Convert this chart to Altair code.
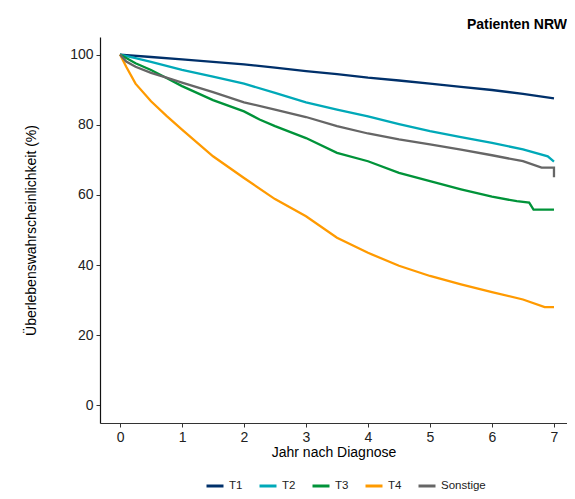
import altair as alt
import pandas as pd

series = ["T1", "T2", "T3", "T4", "Sonstige"]
colors = ["#00306a", "#00a9b8", "#009339", "#ff9a00", "#666666"]

t1_x = [0, 0.5, 1, 1.5, 2, 2.5, 3, 3.5, 4, 4.5, 5, 5.5, 6, 6.5, 7]
t1_y = [100, 99.3, 98.6, 97.9, 97.2, 96.3, 95.3, 94.4, 93.4, 92.6, 91.7, 90.8, 89.9, 88.8, 87.5]

t2_x = [0, 0.25, 0.5, 1, 1.5, 2, 2.5, 3, 3.5, 4, 4.5, 5, 5.5, 6, 6.5, 6.9, 7]
t2_y = [100, 99.0, 97.9, 95.6, 93.7, 91.7, 89.1, 86.4, 84.3, 82.4, 80.2, 78.2, 76.5, 74.8, 73.0, 71.0, 69.5]

t3_x = [0, 0.25, 0.5, 0.75, 1, 1.5, 2, 2.25, 2.5, 3, 3.5, 4, 4.5, 5, 5.5, 6, 6.4, 6.6, 6.67, 7]
t3_y = [100, 97.5, 95.6, 93.3, 91.0, 87.0, 83.8, 81.5, 79.6, 76.2, 72.0, 69.6, 66.3, 63.9, 61.6, 59.5, 58.2, 57.8, 55.8, 55.8]

t4_x = [0, 0.1, 0.25, 0.5, 0.75, 1, 1.5, 2, 2.5, 3, 3.5, 4, 4.5, 5, 5.5, 6, 6.5, 6.85, 7]
t4_y = [100, 96.5, 91.7, 86.7, 82.5, 78.6, 71.0, 64.8, 58.8, 53.9, 47.8, 43.5, 39.8, 36.9, 34.5, 32.3, 30.2, 28.0, 28.0]

so_x = [0, 0.1, 0.25, 0.5, 0.75, 1, 1.5, 2, 2.5, 3, 3.5, 4, 4.5, 5, 5.5, 6, 6.5, 6.8, 7, 7]
so_y = [100, 98.0, 96.5, 94.8, 93.4, 92.0, 89.3, 86.4, 84.3, 82.2, 79.6, 77.5, 75.8, 74.4, 72.9, 71.3, 69.6, 67.8, 67.8, 65.0]

x_ticks = [0, 1, 2, 3, 4, 5, 6, 7]
y_ticks = [0, 20, 40, 60, 80, 100]

rows = []
for name, xs, ys in [("T1", t1_x, t1_y), ("T2", t2_x, t2_y), ("T3", t3_x, t3_y),
                     ("T4", t4_x, t4_y), ("Sonstige", so_x, so_y)]:
    for i, (a, b) in enumerate(zip(xs, ys)):
        rows.append({"Gruppe": name, "Jahr": a, "Wert": b, "idx": i})
df = pd.DataFrame(rows)

FONT = "Liberation Sans"

chart = alt.Chart(df).mark_line(strokeWidth=2.3, clip=True).encode(
    x=alt.X("Jahr:Q", scale=alt.Scale(domain=[-0.323, 7.21], nice=False, zero=False),
            axis=alt.Axis(values=x_ticks, title="Jahr nach Diagnose", format="d")),
    y=alt.Y("Wert:Q", scale=alt.Scale(domain=[-5, 105], nice=False),
            axis=alt.Axis(values=y_ticks, title="Überlebenswahrscheinlichkeit (%)")),
    color=alt.Color("Gruppe:N", scale=alt.Scale(domain=series, range=colors),
                    legend=alt.Legend(title=None, orient="none", direction="horizontal",
                                      legendX=105, legendY=439,
                                      symbolType="stroke", symbolStrokeWidth=3, symbolSize=289,
                                      labelFontSize=11.5, labelFont=FONT, labelColor="#222",
                                      columnPadding=10, symbolOffset=0, padding=0)),
    order="idx:Q",
).properties(
    width=467, height=386,
    title=alt.Title("Patienten NRW", anchor="end", fontSize=14, fontWeight="bold",
                    font=FONT, color="#000", offset=5),
    autosize=alt.AutoSizeParams(type="none"),
    padding={"left": 92, "top": 29, "right": 0, "bottom": 68},
).configure_view(stroke=None).configure_axis(
    grid=False, domainColor="#000", domainWidth=1.2, tickColor="#333", tickSize=4,
    tickWidth=1, labelFont=FONT, labelFontSize=14, labelColor="#222", labelPadding=3,
    titleFont=FONT, titleFontSize=14, titleFontWeight="normal", titleColor="#000",
).configure_axisX(titlePadding=1, domainColor="#333").configure_axisY(titlePadding=31, domainColor="#111")

chart.save("out.html", embed_options={"renderer": "svg", "actions": False})
